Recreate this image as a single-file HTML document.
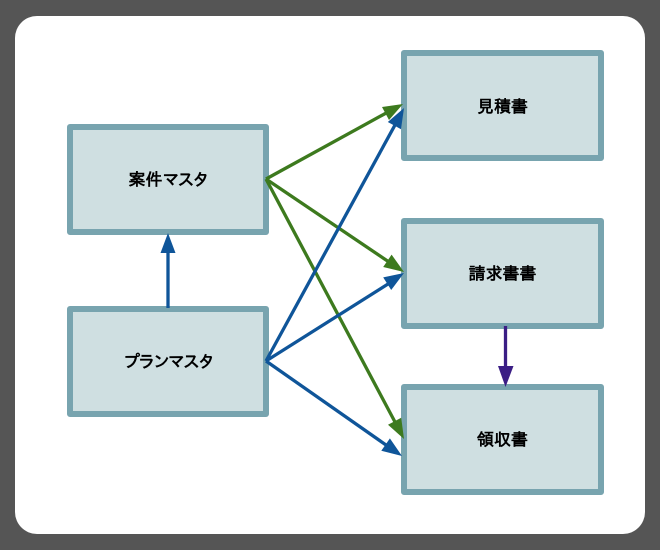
<!DOCTYPE html>
<html><head><meta charset="utf-8"><style>
html,body{margin:0;padding:0;background:#555}
svg{display:block}
text{font-family:"Liberation Sans","IPAGothic","WenQuanYi Zen Hei","Noto Sans CJK JP",sans-serif;font-size:17px;font-weight:bold;fill:#000;text-anchor:middle}
.k{letter-spacing:-2px}
</style></head><body>
<svg width="660" height="550" viewBox="0 0 660 550" xmlns="http://www.w3.org/2000/svg">
<rect width="660" height="550" fill="#555"/>
<rect x="15" y="16" width="630" height="518" rx="22" fill="#fff"/>
<g fill="#cfdfe1" stroke="#78a4af" stroke-width="6" stroke-linejoin="round">
<rect x="70" y="127" width="196" height="105"/>
<rect x="70" y="309" width="196" height="105"/>
<rect x="404" y="53" width="197" height="105"/>
<rect x="404" y="221" width="197" height="105"/>
<rect x="404" y="387" width="197" height="105"/>
</g>
<g stroke-width="3.3" fill="none">
<g stroke="#3d7a1e">
<line x1="266" y1="179" x2="388" y2="112"/>
<line x1="266" y1="179" x2="389" y2="262"/>
<line x1="266" y1="179" x2="395" y2="422"/>
</g>
<g stroke="#0f5599">
<line x1="168" y1="308" x2="168" y2="248"/>
<line x1="266" y1="361" x2="395" y2="125"/>
<line x1="266" y1="361" x2="388" y2="284"/>
<line x1="266" y1="361" x2="386" y2="445"/>
</g>
<line x1="505.500" y1="326" x2="505.500" y2="372" stroke="#3b1e85"/>
</g>
<g fill="#3d7a1e">
<polygon points="403,104 382,107 389,120"/>
<polygon points="404,272 383.200,267 391.600,254.600"/>
<polygon points="404,439 388,424.800 401.200,417.800"/>
</g>
<g fill="#0f5599">
<polygon points="168,233 160.500,253 175.500,253"/>
<polygon points="404,108 387.800,122 401,129.200"/>
<polygon points="404,273 383.200,277.400 391.200,290"/>
<polygon points="402,456 381.300,450.800 389.900,438.400"/>
</g>
<polygon points="505.500,387 498,366 513.500,366" fill="#3b1e85"/>
<text x="168" y="185.500">案件<tspan class="k">マスタ</tspan></text>
<text x="168" y="367.500"><tspan class="k">プランマスタ</tspan></text>
<text x="502.500" y="112.500">見積書</text>
<text x="502.500" y="279.500">請求書書</text>
<text x="502.500" y="445.500">領収書</text>
</svg>
</body></html>
